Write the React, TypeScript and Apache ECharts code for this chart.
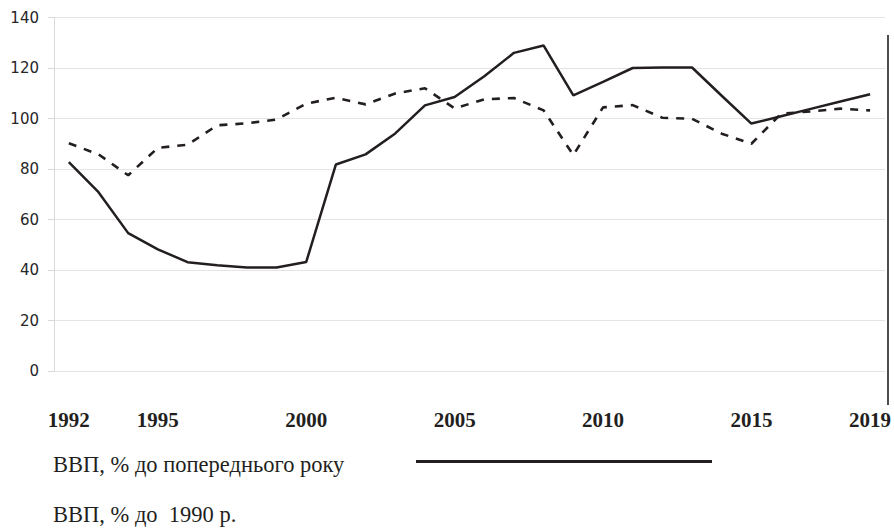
import React, { useEffect, useRef } from "react";
import * as echarts from "echarts";

const years = [
  "1992", "1993", "1994", "1995", "1996", "1997", "1998", "1999", "2000", "2001",
  "2002", "2003", "2004", "2005", "2006", "2007", "2008", "2009", "2010", "2011",
  "2012", "2013", "2014", "2015", "2016", "2017", "2018", "2019",
];
const shownYears = ["1992", "1995", "2000", "2005", "2010", "2015", "2019"];

// ВВП, % до попереднього року (dashed)
const gdpPrevYear = [
  90.2, 85.8, 77.5, 88.4, 89.6, 97.3, 98.1, 99.6, 105.9, 108.2,
  105.6, 109.9, 112.0, 104.0, 107.6, 108.1, 103.2, 85.5, 104.4, 105.3,
  100.3, 99.9, 94.0, 90.0, 101.9, 102.8, 103.9, 103.2,
];
// solid line
const gdp1990 = [
  82.7, 70.8, 54.6, 48.2, 43.1, 41.9, 41.0, 41.0, 43.2, 81.8,
  85.8, 94.1, 105.2, 108.5, 116.7, 126.0, 128.9, 109.2, 114.5, 120.0,
  120.2, 120.2, 109.0, 98.0, 100.9, 103.8, 106.7, 109.6,
];

const legendPrev = "ВВП, % до попереднього року";
const legend1990 = "ВВП, % до  1990 р.";

const ink = "#231f20";

export default function App() {
  const ref = useRef<HTMLDivElement>(null);
  useEffect(() => {
    if (!ref.current) return;
    const chart = echarts.init(ref.current, undefined, { renderer: "svg" });
    chart.setOption({
      animation: false,
      backgroundColor: "#ffffff",
      grid: { left: 54, right: 4, top: 17.5, bottom: 160, containLabel: false },
      xAxis: {
        type: "category",
        data: years,
        boundaryGap: true,
        axisLine: { show: false },
        axisTick: { show: false },
        splitLine: { show: false },
        axisLabel: {
          interval: (_i: number, v: string) => shownYears.includes(v),
          margin: 38,
          fontFamily: "Liberation Serif, Times New Roman, serif",
          fontWeight: "bold",
          fontSize: 21,
          color: ink,
        },
      },
      yAxis: {
        type: "value",
        min: 0,
        max: 140,
        interval: 20,
        axisLine: { show: true, lineStyle: { color: "#d9d9d9", width: 1 } },
        axisTick: { show: true, length: 6, lineStyle: { color: "#d9d9d9" } },
        splitLine: { show: true, lineStyle: { color: "#e4e4e4", width: 1 } },
        axisLabel: {
          margin: 15,
          fontFamily: "DejaVu Sans, sans-serif",
          fontSize: 15,
          color: "#262626",
        },
      },
      series: [
        {
          name: legendPrev,
          type: "line",
          data: gdpPrevYear,
          symbol: "none",
          lineStyle: { color: ink, width: 2.6, type: [8, 8], cap: "butt" },
          z: 2,
        },
        {
          name: legend1990,
          type: "line",
          data: gdp1990,
          symbol: "none",
          lineStyle: { color: ink, width: 2.5 },
          z: 3,
        },
      ],
      graphic: [
        {
          type: "line",
          shape: { x1: 888, y1: 35, x2: 888, y2: 405 },
          style: { stroke: ink, lineWidth: 1.6 },
        },
        {
          type: "text",
          left: 53,
          top: 453,
          style: {
            text: legendPrev,
            fontFamily: "Liberation Serif, Times New Roman, serif",
            fontSize: 22.5,
            fill: ink,
          },
        },
        {
          type: "line",
          shape: { x1: 416, y1: 461.5, x2: 712, y2: 461.5 },
          style: { stroke: ink, lineWidth: 3 },
        },
        {
          type: "text",
          left: 53,
          top: 503,
          style: {
            text: legend1990,
            fontFamily: "Liberation Serif, Times New Roman, serif",
            fontSize: 22.5,
            fill: ink,
          },
        },
      ],
    });
    return () => chart.dispose();
  }, []);
  return (
    <div
      ref={ref}
      style={{ position: "fixed", left: 0, top: 0, width: 894, height: 531 }}
    />
  );
}
